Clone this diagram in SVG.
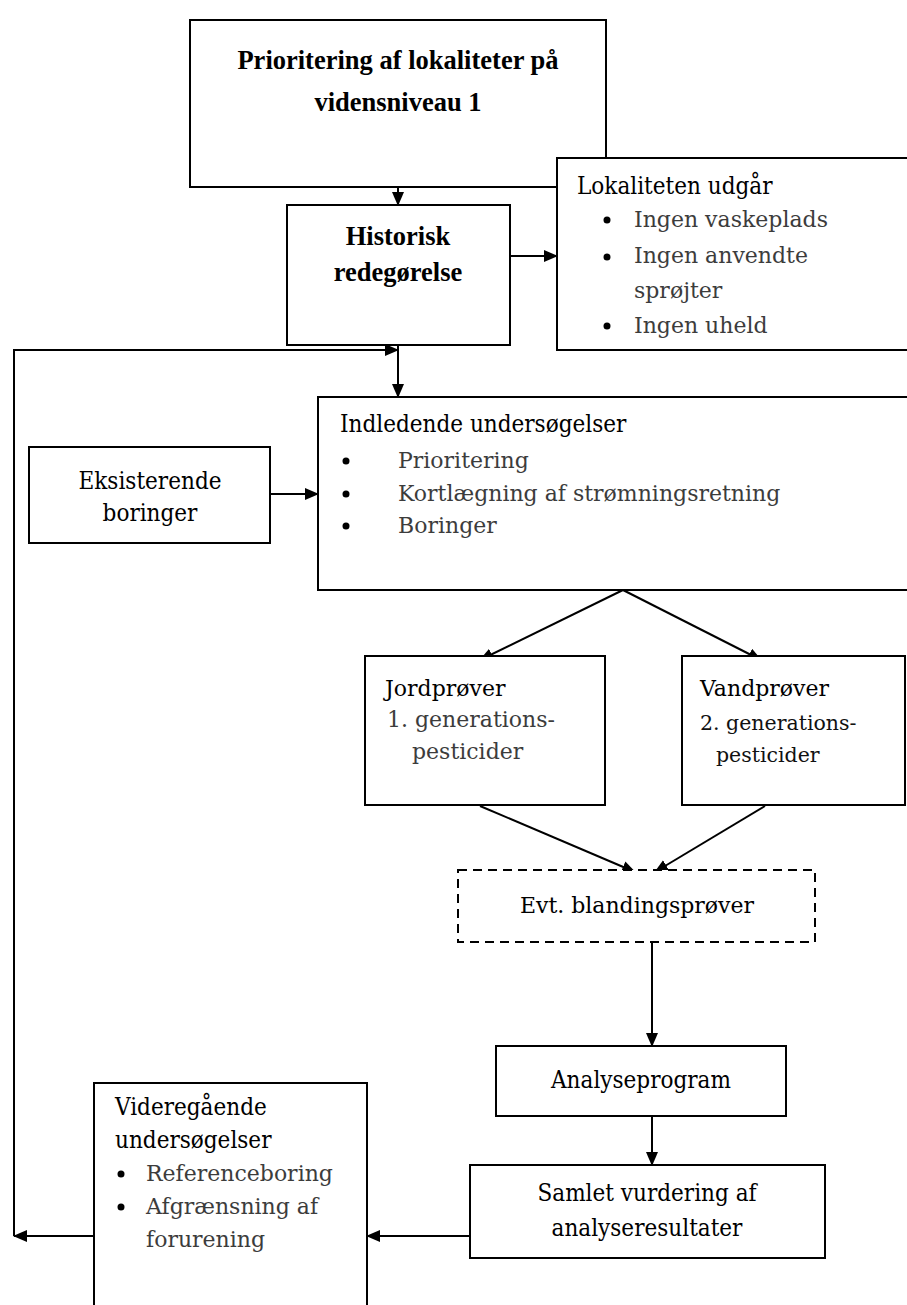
<svg xmlns="http://www.w3.org/2000/svg" width="907" height="1305" viewBox="0 0 907 1305">
<defs>
<marker id="ah" markerWidth="14" markerHeight="12" refX="13" refY="6" orient="auto" markerUnits="userSpaceOnUse">
<path d="M0,0 L14,6 L0,12 Z" fill="#000"/>
</marker>
<style>
.box{fill:#fff;stroke:#000;stroke-width:2}
.dash{fill:#fff;stroke:#000;stroke-width:2;stroke-dasharray:9 6}
.con{fill:none;stroke:#000;stroke-width:2}
.b{font-family:"Liberation Serif",serif;font-weight:bold;font-size:26.5px;fill:#000;text-anchor:middle}
.t{font-family:"DejaVu Serif Condensed","DejaVu Serif",serif;font-stretch:condensed;font-size:24px;fill:#000}
.s{font-family:"DejaVu Serif",serif;font-size:22px;fill:#000}
.r{font-family:"DejaVu Serif",serif;font-size:20.5px;fill:#111}
.l{font-family:"DejaVu Serif",serif;font-size:22px;fill:#3c3c3c}
.m{text-anchor:middle}
.dot{fill:#000}
</style>
</defs>
<rect width="907" height="1305" fill="#fff"/>
<g id="connectors">
<line class="con" x1="398" y1="187" x2="398" y2="205" marker-end="url(#ah)"/>
<line class="con" x1="510" y1="256" x2="557" y2="256" marker-end="url(#ah)"/>
<line class="con" x1="398" y1="345" x2="398" y2="397" marker-end="url(#ah)"/>
<polyline class="con" points="14,1236 14,350 398,350" marker-end="url(#ah)"/>
<line class="con" x1="270" y1="494" x2="318" y2="494" marker-end="url(#ah)"/>
<line class="con" x1="623" y1="590" x2="480" y2="660" marker-end="url(#ah)"/>
<line class="con" x1="623" y1="590" x2="761" y2="660" marker-end="url(#ah)"/>
<line class="con" x1="480" y1="806" x2="635" y2="872" marker-end="url(#ah)"/>
<line class="con" x1="765" y1="806" x2="655" y2="872" marker-end="url(#ah)"/>
<line class="con" x1="652" y1="942" x2="652" y2="1046" marker-end="url(#ah)"/>
<line class="con" x1="652" y1="1116" x2="652" y2="1165" marker-end="url(#ah)"/>
<line class="con" x1="470" y1="1236" x2="367" y2="1236" marker-end="url(#ah)"/>
<line class="con" x1="94" y1="1236" x2="14" y2="1236" marker-end="url(#ah)"/>
</g>
<g id="n-prioritering">
<rect class="box" x="190" y="20" width="416" height="167"/>
<text class="b" x="398" y="69">Prioritering af lokaliteter på</text>
<text class="b" x="398" y="111">vidensniveau 1</text>
</g>
<g id="n-historisk">
<rect class="box" x="287" y="205" width="223" height="140"/>
<text class="b" x="398" y="245">Historisk</text>
<text class="b" x="398" y="281">redegørelse</text>
</g>
<g id="n-udgaar">
<rect class="box" x="557" y="158" width="352" height="192"/>
<text class="t" x="577" y="194">Lokaliteten udgår</text>
<circle class="dot" cx="607" cy="220" r="3.5"/>
<circle class="dot" cx="607" cy="257" r="3.5"/>
<circle class="dot" cx="607" cy="326" r="3.5"/>
<text class="l" x="634" y="227">Ingen vaskeplads</text>
<text class="l" x="634" y="263">Ingen anvendte</text>
<text class="l" x="634" y="298">sprøjter</text>
<text class="l" x="634" y="333">Ingen uheld</text>
</g>
<g id="n-indledende">
<rect class="box" x="318" y="397" width="591" height="193"/>
<text class="t" x="340" y="432">Indledende undersøgelser</text>
<circle class="dot" cx="346" cy="461" r="3.5"/>
<circle class="dot" cx="346" cy="494" r="3.5"/>
<circle class="dot" cx="346" cy="526" r="3.5"/>
<text class="l" x="398" y="468">Prioritering</text>
<text class="l" x="398" y="501">Kortlægning af strømningsretning</text>
<text class="l" x="398" y="533">Boringer</text>
</g>
<g id="n-eksisterende">
<rect class="box" x="29" y="447" width="241" height="96"/>
<text class="t m" x="150" y="489">Eksisterende</text>
<text class="t m" x="150" y="521">boringer</text>
</g>
<g id="n-jord">
<rect class="box" x="365" y="656" width="240" height="149"/>
<text class="s" x="385" y="696">Jordprøver</text>
<text class="l" x="387" y="727">1. generations-</text>
<text class="l" x="412" y="759">pesticider</text>
</g>
<g id="n-vand">
<rect class="box" x="682" y="656" width="223" height="149"/>
<text class="s" x="700" y="696">Vandprøver</text>
<text class="r" x="700" y="730">2. generations-</text>
<text class="r" x="716" y="762">pesticider</text>
</g>
<g id="n-blanding">
<rect class="dash" x="458" y="870" width="357" height="72"/>
<text class="s m" x="637" y="913">Evt. blandingsprøver</text>
</g>
<g id="n-analyse">
<rect class="box" x="496" y="1046" width="290" height="70"/>
<text class="t m" x="641" y="1088">Analyseprogram</text>
</g>
<g id="n-samlet">
<rect class="box" x="470" y="1165" width="355" height="93"/>
<text class="t m" x="647" y="1201">Samlet vurdering af</text>
<text class="t m" x="647" y="1236">analyseresultater</text>
</g>
<g id="n-videre">
<rect class="box" x="94" y="1083" width="273" height="230"/>
<text class="t" x="115" y="1115">Videregående</text>
<text class="t" x="115" y="1148">undersøgelser</text>
<circle class="dot" cx="121" cy="1174" r="3.5"/>
<circle class="dot" cx="121" cy="1207" r="3.5"/>
<text class="l" x="146" y="1181">Referenceboring</text>
<text class="l" x="146" y="1214">Afgrænsning af</text>
<text class="l" x="146" y="1247">forurening</text>
</g>
</svg>
